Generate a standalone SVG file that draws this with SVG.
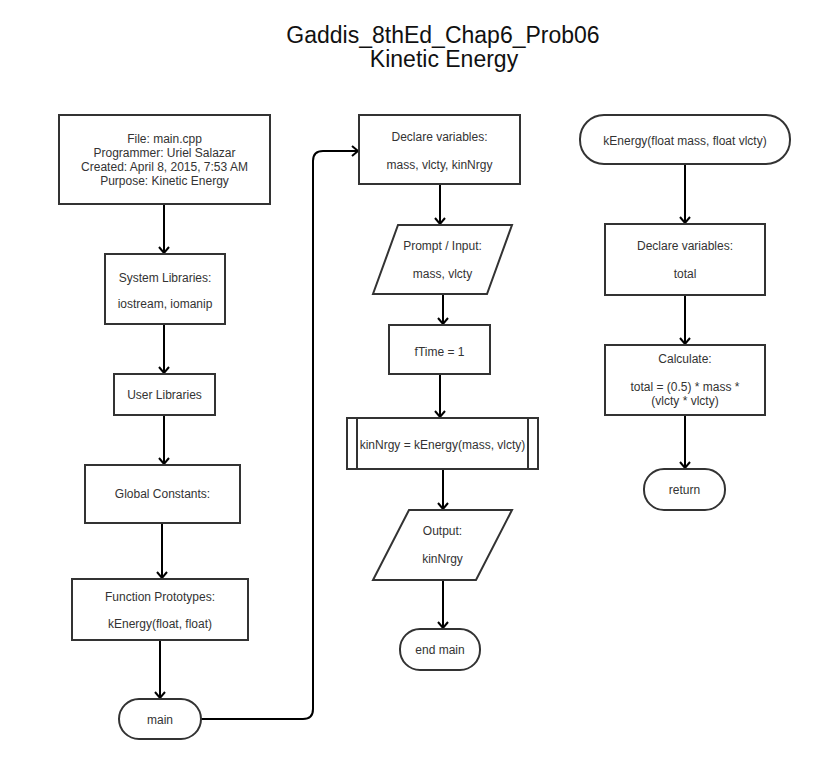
<svg xmlns="http://www.w3.org/2000/svg" width="813" height="760" viewBox="0 0 813 760">
<defs>
<marker id="arr" markerWidth="12" markerHeight="12" refX="9" refY="6" orient="auto" markerUnits="userSpaceOnUse">
<path d="M3,1 L9,6 L3,11" fill="none" stroke="#000" stroke-width="2"/>
</marker>
<style>
.n{fill:#fff;stroke:#333;stroke-width:2}
.t{font-family:"Liberation Sans",Arial,sans-serif;font-size:12px;fill:#333;text-anchor:middle}
.ti{font-family:"Liberation Sans",Arial,sans-serif;font-size:23px;fill:#111;text-anchor:middle}
.c{fill:none;stroke:#000;stroke-width:2;marker-end:url(#arr)}
</style>
</defs>
<rect width="813" height="760" fill="#fff"/>
<g id="title">
<text class="ti" x="443" y="43">Gaddis_8thEd_Chap6_Prob06</text>
<text class="ti" x="444" y="67">Kinetic Energy</text>
</g>
<g id="connectors">
<path class="c" d="M164,204 L164,253"/>
<path class="c" d="M164,324 L164,373"/>
<path class="c" d="M164,415 L164,464"/>
<path class="c" d="M162,523 L162,578"/>
<path class="c" d="M160,640 L160,698"/>
<path class="c" d="M201,719 L303,719 Q313,719 313,709 L313,161 Q313,151 323,151 L358,151"/>
<path class="c" d="M440,184 L440,224"/>
<path class="c" d="M443,294 L443,324"/>
<path class="c" d="M440,374 L440,417"/>
<path class="c" d="M443,469 L443,509"/>
<path class="c" d="M443,580 L443,628"/>
<path class="c" d="M685,164 L685,223"/>
<path class="c" d="M685,295 L685,344"/>
<path class="c" d="M685,415 L685,468"/>
</g>
<g id="file">
<rect class="n" x="59" y="115" width="211" height="89"/>
<text class="t" x="164.5" y="143">File: main.cpp</text>
<text class="t" x="164.5" y="157">Programmer: Uriel Salazar</text>
<text class="t" x="164.5" y="171">Created: April 8, 2015, 7:53 AM</text>
<text class="t" x="164.5" y="185">Purpose: Kinetic Energy</text>
</g>
<g id="syslib">
<rect class="n" x="105" y="254" width="120" height="70"/>
<text class="t" x="165" y="282">System Libraries:</text>
<text class="t" x="165" y="308">iostream, iomanip</text>
</g>
<g id="userlib">
<rect class="n" x="114" y="374" width="101" height="41"/>
<text class="t" x="164.5" y="399">User Libraries</text>
</g>
<g id="globals">
<rect class="n" x="85" y="465" width="155" height="58"/>
<text class="t" x="162.5" y="498">Global Constants:</text>
</g>
<g id="protos">
<rect class="n" x="72" y="579" width="176" height="61"/>
<text class="t" x="160" y="601">Function Prototypes:</text>
<text class="t" x="160" y="628">kEnergy(float, float)</text>
</g>
<g id="main">
<rect class="n" x="119" y="699" width="82" height="40" rx="20" ry="20"/>
<text class="t" x="160" y="724">main</text>
</g>
<g id="declare">
<rect class="n" x="359" y="115" width="161" height="69"/>
<text class="t" x="439.5" y="141">Declare variables:</text>
<text class="t" x="439.5" y="169">mass, vlcty, kinNrgy</text>
</g>
<g id="input">
<polygon class="n" points="398,225 512,225 487,294 373,294"/>
<text class="t" x="442.5" y="250">Prompt / Input:</text>
<text class="t" x="442.5" y="278">mass, vlcty</text>
</g>
<g id="ftime">
<rect class="n" x="389" y="325" width="101" height="49"/>
<text class="t" x="439.5" y="356">fTime = 1</text>
</g>
<g id="call">
<rect class="n" x="347" y="418" width="191" height="51"/>
<line x1="357" y1="418" x2="357" y2="469" stroke="#333" stroke-width="2"/>
<line x1="528" y1="418" x2="528" y2="469" stroke="#333" stroke-width="2"/>
<text class="t" x="442.5" y="449">kinNrgy = kEnergy(mass, vlcty)</text>
</g>
<g id="output">
<polygon class="n" points="409,510 512,510 476,580 373,580"/>
<text class="t" x="442.5" y="535">Output:</text>
<text class="t" x="442.5" y="563">kinNrgy</text>
</g>
<g id="endmain">
<rect class="n" x="400" y="629" width="80" height="41" rx="20" ry="20"/>
<text class="t" x="440" y="654">end main</text>
</g>
<g id="kenergy">
<rect class="n" x="580" y="115" width="210" height="49" rx="24" ry="24"/>
<text class="t" x="685" y="145">kEnergy(float mass, float vlcty)</text>
</g>
<g id="declare2">
<rect class="n" x="605" y="224" width="160" height="71"/>
<text class="t" x="685" y="250">Declare variables:</text>
<text class="t" x="685" y="278">total</text>
</g>
<g id="calc">
<rect class="n" x="605" y="345" width="160" height="70"/>
<text class="t" x="685" y="363">Calculate:</text>
<text class="t" x="685" y="391">total = (0.5) * mass *</text>
<text class="t" x="685" y="405">(vlcty * vlcty)</text>
</g>
<g id="return">
<rect class="n" x="644" y="469" width="81" height="41" rx="20" ry="20"/>
<text class="t" x="684.5" y="494">return</text>
</g>
</svg>
